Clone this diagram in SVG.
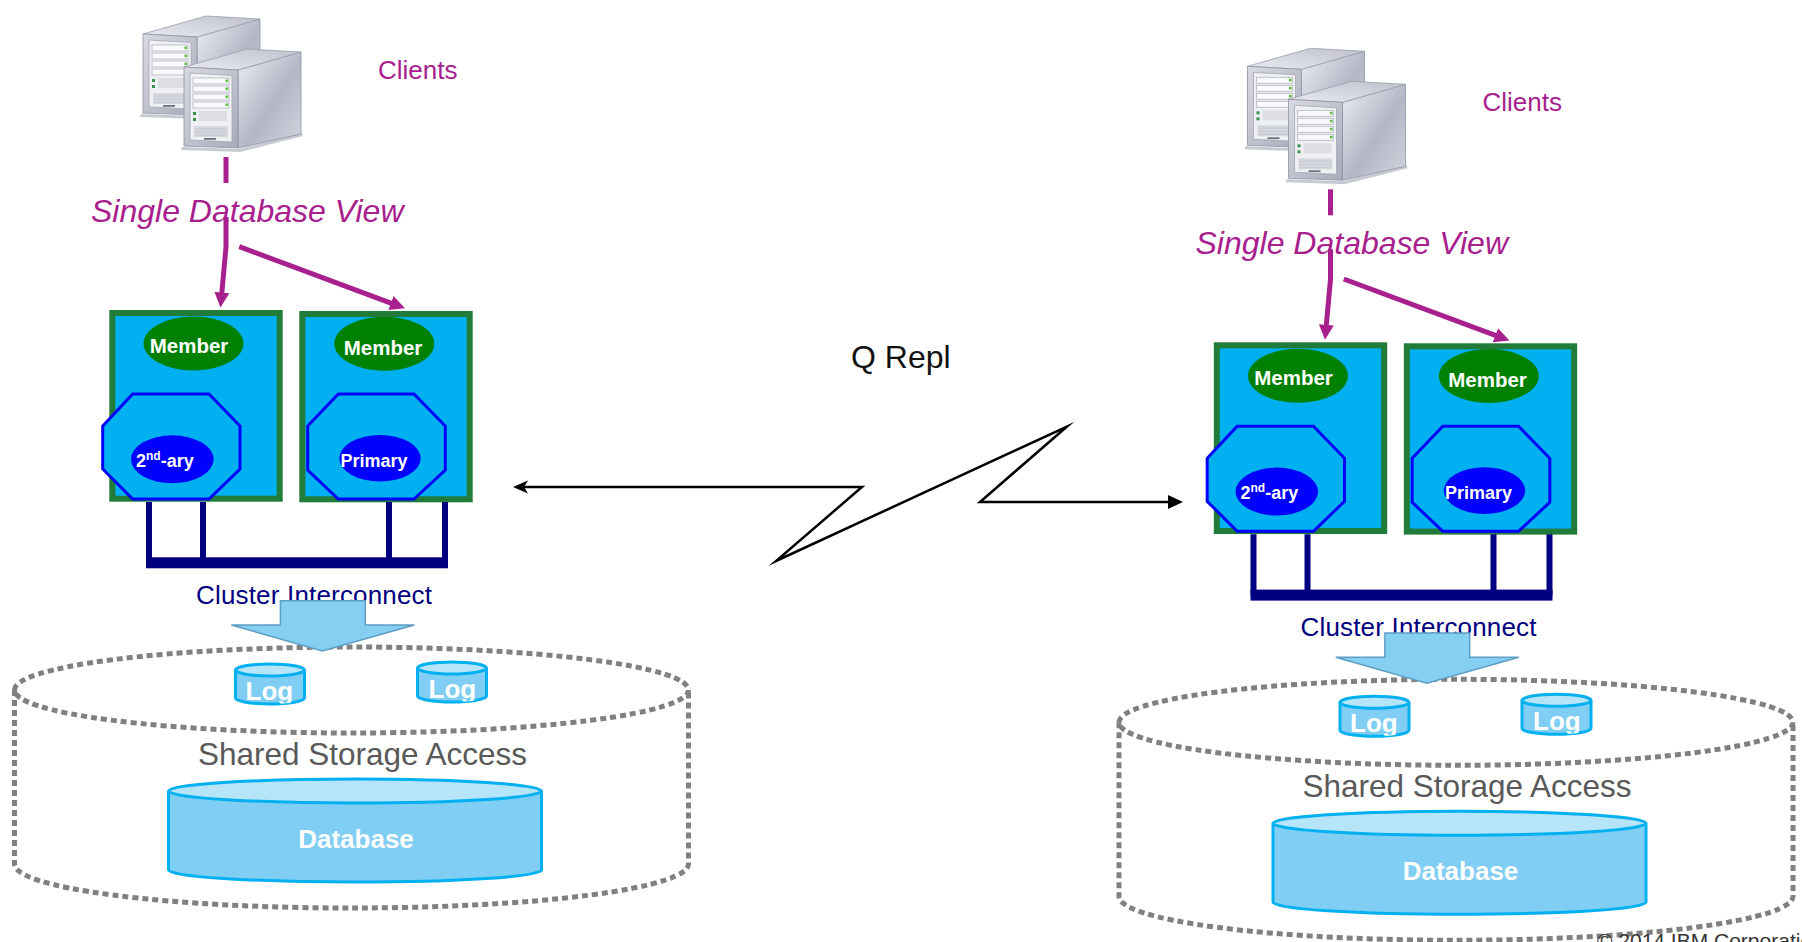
<svg xmlns="http://www.w3.org/2000/svg" xmlns:xlink="http://www.w3.org/1999/xlink" width="1802" height="942" viewBox="0 0 1802 942">
  <style>
    text { font-family: "Liberation Sans", Arial, sans-serif; }
    .clients { font-size: 26px; fill: #A8208E; }
    .view { font-size: 32px; font-style: italic; fill: #A8208E; }
    .box { fill: #00B0F0; stroke: #217C39; stroke-width: 6; }
    .member { fill: #008000; }
    .member-t { font-size: 20.5px; font-weight: bold; fill: #FFFFFF; }
    .octa { fill: #00B0F0; stroke: #0000FF; stroke-width: 3; }
    .role { fill: #0000FF; }
    .role-t { font-size: 18px; font-weight: bold; fill: #FFFFFF; }
    .ic { stroke: #000080; stroke-width: 6; fill: none; }
    .ic-bar { fill: #000080; }
    .ic-t { font-size: 26px; fill: #000080; }
    .block { fill: #84CFF2; stroke: #5E9DC4; stroke-width: 1.5; stroke-linejoin: miter; }
    .shared { fill: none; stroke: #808080; stroke-width: 5; stroke-dasharray: 6 4; }
    .shared-t { font-size: 31.5px; fill: #595959; }
    .cyl-body { fill: #80CEF3; stroke: #00B0F0; stroke-width: 3; }
    .cyl-top { fill: #B6E4F8; stroke: #00B0F0; stroke-width: 3; }
    .cyl-t { font-size: 26px; font-weight: bold; fill: #FFFFFF; }
    .flow { fill: none; stroke: #A8208E; stroke-width: 5; }
    .repl { fill: none; stroke: #000000; stroke-width: 2.5; stroke-miterlimit: 10; }
    .repl-t { font-size: 32px; fill: #111111; }
    .copy { font-size: 21px; fill: #333333; }
  </style>
  <defs>
    <marker id="arrow-magenta" markerUnits="userSpaceOnUse" markerWidth="16" markerHeight="16" refX="5" refY="7.5" orient="auto">
      <path d="M0,0 L15,7.5 L0,15 z" fill="#A8208E"/>
    </marker>
    <marker id="arrow-black" markerUnits="userSpaceOnUse" markerWidth="16" markerHeight="16" refX="3" refY="7" orient="auto">
      <path d="M0,0 L15,7 L0,14 z" fill="#000000"/>
    </marker>
    <marker id="arrow-black-stealth" markerUnits="userSpaceOnUse" markerWidth="16" markerHeight="16" refX="4" refY="6.5" orient="auto-start-reverse">
      <path d="M0,0 L15,6.5 L0,13 L4,6.5 z" fill="#000000"/>
    </marker>

    <linearGradient id="srv-front" x1="0" y1="0" x2="1" y2="1">
      <stop offset="0" stop-color="#D8DAE2"/>
      <stop offset="1" stop-color="#A7ABB9"/>
    </linearGradient>
    <linearGradient id="srv-side" x1="0" y1="0" x2="1" y2="1">
      <stop offset="0" stop-color="#EDEFF4"/>
      <stop offset="0.55" stop-color="#B3B7C5"/>
      <stop offset="1" stop-color="#D3D6DF"/>
    </linearGradient>
    <linearGradient id="srv-top" x1="0" y1="1" x2="1" y2="0">
      <stop offset="0" stop-color="#E9EBF0"/>
      <stop offset="1" stop-color="#BEC1CC"/>
    </linearGradient>

    <!-- tower server, origin at the top-left corner of the front face -->
    <g id="server-tower">
      <polygon points="-2,80 54,82 118,66 119,69 56,85 -3,83" fill="#C7CAD3"/>
      <polygon points="54,3 117,-15 117,67 54,81" fill="url(#srv-side)" stroke="#8E92A2" stroke-width="0.8"/>
      <polygon points="0,0 54,3 117,-15 63,-18" fill="url(#srv-top)" stroke="#9A9EAD" stroke-width="0.8"/>
      <polygon points="0,0 54,3 54,81 0,79" fill="url(#srv-front)" stroke="#8E92A2" stroke-width="0.8"/>
      <polygon points="6,6 48,8.5 48,75 6,73" fill="#EFF0F4" stroke="#A3A7B4" stroke-width="0.8"/>
      <g fill="#F9F9FB" stroke="#B3B6C1" stroke-width="0.8">
        <rect x="9" y="11" width="36" height="6"/>
        <rect x="9" y="19" width="36" height="6"/>
        <rect x="9" y="27" width="36" height="6"/>
        <rect x="9" y="35" width="36" height="6"/>
      </g>
      <g fill="#5DBE3E">
        <rect x="41.5" y="12.5" width="2.6" height="2.6"/>
        <rect x="41.5" y="20.5" width="2.6" height="2.6"/>
        <rect x="41.5" y="28.5" width="2.6" height="2.6"/>
        <rect x="41.5" y="36.5" width="2.6" height="2.6"/>
        <rect x="9" y="45" width="3" height="3" fill="#3A8F4A"/>
        <rect x="9" y="51" width="3" height="3" fill="#3A8F4A"/>
      </g>
      <rect x="15" y="44" width="28" height="10" fill="#DCDEE4"/>
      <rect x="10" y="59" width="34" height="11" fill="#D6D8DF"/>
      <g stroke="#BDC0C9" stroke-width="0.7">
        <line x1="11" y1="62" x2="43" y2="62"/>
        <line x1="11" y1="65" x2="43" y2="65"/>
        <line x1="11" y1="68" x2="43" y2="68"/>
      </g>
      <rect x="20" y="71" width="12" height="1.8" fill="#6E7280"/>
    </g>

    <clipPath id="clip-log-1"><path d="M235.5,664 V698 A34.5,6 0 0 0 304.5,698 V664 z"/></clipPath>
    <clipPath id="clip-log-2"><path d="M417.5,662 V696 A34.5,6 0 0 0 486.5,696 V662 z"/></clipPath>
  </defs>

  <rect width="1802" height="942" fill="#FFFFFF"/>

  <!-- ===== Site A ===== -->
  <g id="site-a">
    <g id="site-a-clients">
      <use xlink:href="#server-tower" transform="translate(143,34)"/>
      <use xlink:href="#server-tower" transform="translate(184,67)"/>
      <text class="clients" x="378" y="79">Clients</text>
    </g>
    <g id="site-a-view">
      <text class="view" x="91" y="222">Single Database View</text>
    </g>
    <g id="site-a-member-1">
      <rect class="box" x="112.3" y="313" width="167.4" height="185.7"/>
      <ellipse class="member" cx="193.5" cy="343.5" rx="50" ry="27"/>
      <text class="member-t" x="189" y="353" text-anchor="middle">Member</text>
      <polygon class="octa" points="132.7,394 209,394 240,426 240,469 209,499 132.7,499 102.7,469 102.7,426"/>
      <ellipse class="role" cx="172.3" cy="459.3" rx="41.3" ry="24"/>
      <text class="role-t" x="136" y="467">2<tspan font-size="12" dy="-7">nd</tspan><tspan dy="7">-ary</tspan></text>
    </g>
    <g id="site-a-member-2">
      <rect class="box" x="302.3" y="314" width="167.4" height="185.3"/>
      <ellipse class="member" cx="384.3" cy="343.7" rx="50" ry="27"/>
      <text class="member-t" x="383" y="355" text-anchor="middle">Member</text>
      <polygon class="octa" points="338.3,394 414,394 445.3,426 445.3,470 414,499 338.3,499 307.7,470 307.7,426"/>
      <ellipse class="role" cx="380" cy="458.3" rx="40.7" ry="23.3"/>
      <text class="role-t" x="374" y="467" text-anchor="middle">Primary</text>
    </g>
    <g id="site-a-interconnect">
      <path class="ic" d="M149,502 V563 M203,502 V563 M389,502 V563 M445,502 V563"/>
      <rect class="ic-bar" x="146" y="557.3" width="302" height="11"/>
      <text class="ic-t" x="196" y="604" textLength="236">Cluster Interconnect</text>
    </g>
    <g id="site-a-storage">
      <ellipse class="shared" cx="351.5" cy="690" rx="337" ry="43"/>
      <path class="shared" d="M14.5,690 V864 A337,44 0 0 0 688.5,864 V690"/>
      <g id="site-a-log-1">
        <path class="cyl-body" d="M235.5,670 V698 A34.5,6 0 0 0 304.5,698 V670"/>
        <ellipse class="cyl-top" cx="270" cy="670" rx="34.5" ry="6"/>
        <text class="cyl-t" x="245.5" y="700" clip-path="url(#clip-log-1)">Log</text>
      </g>
      <g id="site-a-log-2">
        <path class="cyl-body" d="M417.5,668 V696 A34.5,6 0 0 0 486.5,696 V668"/>
        <ellipse class="cyl-top" cx="452" cy="668" rx="34.5" ry="6"/>
        <text class="cyl-t" x="428.5" y="698" clip-path="url(#clip-log-2)">Log</text>
      </g>
      <text class="shared-t" x="362.5" y="765" text-anchor="middle">Shared Storage Access</text>
      <g id="site-a-database">
        <path class="cyl-body" d="M168.5,791 V870 A186.5,12 0 0 0 541.5,870 V791"/>
        <ellipse class="cyl-top" cx="355" cy="791" rx="186.5" ry="12"/>
        <text class="cyl-t" x="356" y="848" text-anchor="middle">Database</text>
      </g>
    </g>
    <g id="site-a-connectors">
      <line class="flow" x1="226" y1="157" x2="226" y2="183"/>
      <path class="flow" d="M226,217 V247 L221.4,297.5" marker-end="url(#arrow-magenta)"/>
      <line class="flow" x1="239.3" y1="246.7" x2="395.6" y2="304.8" marker-end="url(#arrow-magenta)"/>
      <polygon class="block" points="280.4,600.7 365.2,600.7 365.2,625 414.3,625 322.3,651 231.3,625 280.4,625"/>
    </g>
  </g>

  <!-- ===== Site B ===== -->
  <g id="site-b" transform="translate(1104.5,32.3)">
    <g id="site-b-clients">
      <use xlink:href="#server-tower" transform="translate(143,34)"/>
      <use xlink:href="#server-tower" transform="translate(184,67)"/>
      <text class="clients" x="378" y="79">Clients</text>
    </g>
    <g id="site-b-view">
      <text class="view" x="91" y="222">Single Database View</text>
    </g>
    <g id="site-b-member-1">
      <rect class="box" x="112.3" y="313" width="167.4" height="185.7"/>
      <ellipse class="member" cx="193.5" cy="343.5" rx="50" ry="27"/>
      <text class="member-t" x="189" y="353" text-anchor="middle">Member</text>
      <polygon class="octa" points="132.7,394 209,394 240,426 240,469 209,499 132.7,499 102.7,469 102.7,426"/>
      <ellipse class="role" cx="172.3" cy="459.3" rx="41.3" ry="24"/>
      <text class="role-t" x="136" y="467">2<tspan font-size="12" dy="-7">nd</tspan><tspan dy="7">-ary</tspan></text>
    </g>
    <g id="site-b-member-2">
      <rect class="box" x="302.3" y="314" width="167.4" height="185.3"/>
      <ellipse class="member" cx="384.3" cy="343.7" rx="50" ry="27"/>
      <text class="member-t" x="383" y="355" text-anchor="middle">Member</text>
      <polygon class="octa" points="338.3,394 414,394 445.3,426 445.3,470 414,499 338.3,499 307.7,470 307.7,426"/>
      <ellipse class="role" cx="380" cy="458.3" rx="40.7" ry="23.3"/>
      <text class="role-t" x="374" y="467" text-anchor="middle">Primary</text>
    </g>
    <g id="site-b-interconnect">
      <path class="ic" d="M149,502 V563 M203,502 V563 M389,502 V563 M445,502 V563"/>
      <rect class="ic-bar" x="146" y="557.3" width="302" height="11"/>
      <text class="ic-t" x="196" y="604" textLength="236">Cluster Interconnect</text>
    </g>
    <g id="site-b-storage">
      <ellipse class="shared" cx="351.5" cy="690" rx="337" ry="43"/>
      <path class="shared" d="M14.5,690 V864 A337,44 0 0 0 688.5,864 V690"/>
      <g id="site-b-log-1">
        <path class="cyl-body" d="M235.5,670 V698 A34.5,6 0 0 0 304.5,698 V670"/>
        <ellipse class="cyl-top" cx="270" cy="670" rx="34.5" ry="6"/>
        <text class="cyl-t" x="245.5" y="700" clip-path="url(#clip-log-1)">Log</text>
      </g>
      <g id="site-b-log-2">
        <path class="cyl-body" d="M417.5,668 V696 A34.5,6 0 0 0 486.5,696 V668"/>
        <ellipse class="cyl-top" cx="452" cy="668" rx="34.5" ry="6"/>
        <text class="cyl-t" x="428.5" y="698" clip-path="url(#clip-log-2)">Log</text>
      </g>
      <text class="shared-t" x="362.5" y="765" text-anchor="middle">Shared Storage Access</text>
      <g id="site-b-database">
        <path class="cyl-body" d="M168.5,791 V870 A186.5,12 0 0 0 541.5,870 V791"/>
        <ellipse class="cyl-top" cx="355" cy="791" rx="186.5" ry="12"/>
        <text class="cyl-t" x="356" y="848" text-anchor="middle">Database</text>
      </g>
    </g>
    <g id="site-b-connectors">
      <line class="flow" x1="226" y1="157" x2="226" y2="183"/>
      <path class="flow" d="M226,217 V247 L221.4,297.5" marker-end="url(#arrow-magenta)"/>
      <line class="flow" x1="239.3" y1="246.7" x2="395.6" y2="304.8" marker-end="url(#arrow-magenta)"/>
      <polygon class="block" points="280.4,600.7 365.2,600.7 365.2,625 414.3,625 322.3,651 231.3,625 280.4,625"/>
    </g>
  </g>

  <!-- ===== Replication link between sites ===== -->
  <g id="replication">
    <path class="repl" d="M524,487 L862,487 L776,561 L1067,426.5 L980,502 L1171,502" marker-start="url(#arrow-black-stealth)" marker-end="url(#arrow-black)"/>
    <text class="repl-t" x="851" y="368">Q Repl</text>
  </g>

  <text class="copy" x="1597" y="948">© 2014 IBM Corporation</text>
</svg>
